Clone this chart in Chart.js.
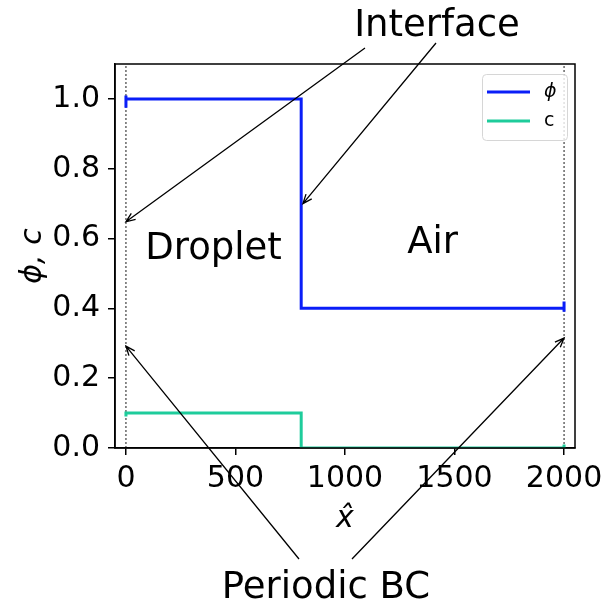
<!DOCTYPE html>
<html>
<head>
<meta charset="utf-8">
<script src="https://cdn.jsdelivr.net/npm/chart.js@4"></script>
<style>
  html, body { margin: 0; padding: 0; background: #fff; overflow: hidden; }
  #wrap { width: 604px; height: 603px; position: relative; }
</style>
</head>
<body>
<div id="wrap"><canvas id="chartPhase"></canvas></div>
<script>
/* ============================
   Data
   ============================ */

// phase field phi along x (step profile, little ticks at the periodic ends)
const phiX = [0, 0, 0, 800, 800, 2000, 2000, 2000];
const phiY = [0.975, 1.01, 1.0, 1.0, 0.4, 0.4, 0.39, 0.42];

// concentration c
const cX = [0, 0, 800, 800, 2000, 2000];
const cY = [0.09, 0.1, 0.1, 0, 0, 0.01];

// periodic boundaries (dotted verticals)
const boundaryX = [0, 2000];

const xTicks = [0, 500, 1000, 1500, 2000];
const yTicks = [0.0, 0.2, 0.4, 0.6, 0.8, 1.0];
const xRange = [-50, 2050];
const yRange = [0, 1.1];

// arrow targets, in data units
const interfaceTargets = [{ x: 0, y: 0.648 }, { x: 808, y: 0.70 }];
const periodicTargets = [{ x: 0, y: 0.292 }, { x: 2000, y: 0.315 }];

const toPoints = (xs, ys) => xs.map((x, i) => ({ x, y: ys[i] }));

const FONT = "'DejaVu Sans', sans-serif";

/* ============================
   Plugins
   ============================ */

function arrow(ctx, x0, y0, x1, y1) {
  const ang = Math.atan2(y1 - y0, x1 - x0);
  const head = 10;
  ctx.beginPath();
  ctx.moveTo(x0, y0);
  ctx.lineTo(x1, y1);
  ctx.moveTo(x1 - head * Math.cos(ang - 0.38), y1 - head * Math.sin(ang - 0.38));
  ctx.lineTo(x1, y1);
  ctx.lineTo(x1 - head * Math.cos(ang + 0.38), y1 - head * Math.sin(ang + 0.38));
  ctx.stroke();
}

const framePlugin = {
  id: "frame",
  afterDatasetsDraw(chart) {
    const { ctx, chartArea: a } = chart;
    ctx.save();
    ctx.strokeStyle = "#000";
    ctx.lineWidth = 1.5;
    ctx.strokeRect(a.left, a.top, a.right - a.left, a.bottom - a.top);
    ctx.restore();
  }
};

const legendPlugin = {
  id: "boxLegend",
  afterDraw(chart) {
    const { ctx } = chart;
    const items = chart.data.datasets.filter(d => !d.hideLegend);
    ctx.save();
    ctx.fillStyle = "rgba(255,255,255,0.8)";
    ctx.strokeStyle = "#d6d6d6";
    ctx.lineWidth = 1;
    ctx.beginPath();
    ctx.roundRect(482.5, 74.5, 85, 66, 4);
    ctx.fill();
    ctx.stroke();
    items.forEach((d, i) => {
      const y = 92 + i * 29;
      ctx.strokeStyle = d.borderColor;
      ctx.lineWidth = 3;
      ctx.beginPath();
      ctx.moveTo(487, y);
      ctx.lineTo(530, y);
      ctx.stroke();
      ctx.fillStyle = "#000";
      ctx.textBaseline = "middle";
      ctx.textAlign = "left";
      ctx.font = (d.italicLabel ? "italic " : "") + "19px " + FONT;
      ctx.fillText(d.label, 544, y);
    });
    ctx.restore();
  }
};

const annotationPlugin = {
  id: "notes",
  afterDraw(chart) {
    const { ctx } = chart;
    const xs = chart.scales.x, ys = chart.scales.y;
    ctx.save();
    ctx.fillStyle = "#000";
    ctx.font = "37px " + FONT;
    ctx.textAlign = "center";
    ctx.textBaseline = "alphabetic";
    ctx.fillText("Droplet", xs.getPixelForValue(400), ys.getPixelForValue(0.54));
    ctx.fillText("Air", xs.getPixelForValue(1400), ys.getPixelForValue(0.56));
    ctx.fillText("Interface", 437, 36);
    ctx.fillText("Periodic BC", 326, 598);

    ctx.strokeStyle = "#000";
    ctx.lineWidth = 1.3;
    const iStart = [[365, 48], [436, 43]];
    interfaceTargets.forEach((t, i) => {
      arrow(ctx, iStart[i][0], iStart[i][1], xs.getPixelForValue(t.x), ys.getPixelForValue(t.y));
    });
    const pStart = [[299, 559], [352, 559]];
    periodicTargets.forEach((t, i) => {
      arrow(ctx, pStart[i][0], pStart[i][1], xs.getPixelForValue(t.x), ys.getPixelForValue(t.y));
    });
    ctx.restore();
  }
};

/* ============================
   Chart
   ============================ */

const datasets = [
  {
    label: "ϕ",
    italicLabel: true,
    data: toPoints(phiX, phiY),
    borderColor: "#0a1ef8",
    borderWidth: 3
  },
  {
    label: "c",
    data: toPoints(cX, cY),
    borderColor: "#1ecc9b",
    borderWidth: 3
  },
  ...boundaryX.map(bx => ({
    label: "boundary",
    hideLegend: true,
    data: toPoints([bx, bx], yRange),
    borderColor: "#000",
    borderWidth: 0.9,
    borderDash: [2, 2]
  }))
];

const tickFont = { family: FONT, size: 30 };

new Chart(document.getElementById("chartPhase"), {
  type: "line",
  data: { datasets },
  options: {
    responsive: true,
    maintainAspectRatio: false,
    animation: false,
    layout: { padding: { top: 64, right: 29, left: 0, bottom: 0 } },
    elements: {
      point: { radius: 0, hoverRadius: 0 },
      line: { tension: 0, borderJoinStyle: "miter", borderCapStyle: "butt" }
    },
    plugins: {
      legend: { display: false },
      tooltip: { enabled: false }
    },
    scales: {
      x: {
        type: "linear",
        min: xRange[0],
        max: xRange[1],
        afterBuildTicks: s => { s.ticks = xTicks.map(v => ({ value: v })); },
        afterFit: s => { s.height = 155; s.paddingLeft = 0; s.paddingRight = 0; },
        ticks: { color: "#000", font: tickFont, padding: 6, maxRotation: 0, callback: v => String(v) },
        grid: { drawOnChartArea: false, tickLength: 7, color: "#000", lineWidth: 1.5 },
        border: { color: "#000", width: 1.5 },
        title: {
          display: true,
          text: "x\u0302",
          color: "#000",
          font: { family: FONT, size: 30, style: "italic" },
          padding: { top: 0, bottom: 66 }
        }
      },
      y: {
        type: "linear",
        min: yRange[0],
        max: yRange[1],
        afterBuildTicks: s => { s.ticks = yTicks.map(v => ({ value: v })); },
        afterFit: s => { s.width = 115; s.paddingTop = 0; s.paddingBottom = 0; },
        ticks: { color: "#000", font: tickFont, padding: 8, callback: v => v.toFixed(1) },
        grid: { drawOnChartArea: false, tickLength: 7, color: "#000", lineWidth: 1.5 },
        border: { color: "#000", width: 1.5 },
        title: {
          display: true,
          text: "ϕ, c",
          color: "#000",
          font: { family: FONT, size: 30, style: "italic" },
          padding: { top: 15, bottom: 0 }
        }
      }
    }
  },
  plugins: [framePlugin, legendPlugin, annotationPlugin]
});
</script>
</body>
</html>
